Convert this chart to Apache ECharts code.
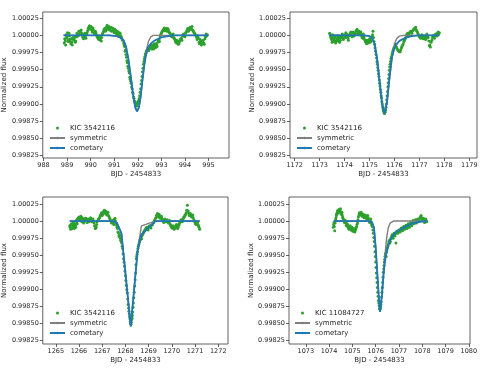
<!DOCTYPE html>
<html><head><meta charset="utf-8">
<script src="https://cdn.jsdelivr.net/npm/echarts@6/dist/echarts.min.js"></script>
<style>html,body{margin:0;padding:0;background:#fff}#c{width:481px;height:369px}</style>
</head><body><div id="c"></div><script>
// ---------- Panel 1: KIC 3542116 ----------
const p1Time=[988.88,988.92,988.96,989.00,989.04,989.08,989.12,989.16,989.20,989.25,989.30,989.35,989.40,989.45,989.50,989.55,989.60,989.65,989.70,989.75,989.80,989.85,989.90,989.95,990.00,990.05,990.10,990.15,990.20,990.25,990.30,990.35,990.40,990.45,990.50,990.55,990.60,990.65,990.70,990.75,990.80,990.85,990.90,990.95,991.00,991.05,991.10,991.15,991.20,991.25,991.30,
991.35,991.40,991.44,991.48,991.52,991.56,991.60,991.64,991.68,991.72,991.76,991.80,991.84,991.88,991.92,991.96,992.00,992.04,992.08,992.12,992.16,992.20,992.24,992.28,992.32,992.36,
992.40,992.45,992.50,992.55,992.60,992.65,992.70,992.75,992.80,992.85,992.90,992.95,993.00,993.05,993.10,993.15,993.20,993.25,993.30,993.35,993.40,993.45,993.50,993.55,993.60,993.65,993.70,993.75,993.80,993.85,993.90,993.95,994.00,994.05,994.10,994.15,994.20,994.25,994.30,994.35,994.40,994.45,994.50,994.55,994.60,994.65,994.70,994.75,994.80,994.85,994.90,994.95,
988.90,988.94,988.98,989.02,989.06,989.10,989.14,989.18,989.22,989.27,989.32,989.37,989.42,989.47,989.52,989.57,989.62,989.67,989.72,989.77,989.82,989.87,989.92,989.97,990.02,990.07,990.12,990.17,990.22,990.27,990.32,990.37,990.42,990.47,990.52,990.57,990.62,990.67,990.72,990.77,990.82,990.87,990.92,990.97,991.02,991.07,991.12,991.17,991.22,991.27,991.32,
991.42,991.46,991.50,991.54,991.58,991.62,991.66,991.70,991.74,991.78,991.82,991.86,991.90,991.94,991.98,992.02,992.06,992.10,992.14,992.18,992.22,992.26,992.30,992.34,992.38,
992.42,992.47,992.52,992.57,992.62,992.67,992.72,992.77,992.82,992.87,992.92,992.97,993.02,993.07,993.12,993.17,993.22,993.27,993.32,993.37,993.42,993.47,993.52,993.57,993.62,993.67,993.72,993.77,993.82,993.87,993.92,993.97,994.02,994.07,994.12,994.17,994.22,994.27,994.32,994.37,994.42,994.47,994.52,994.57,994.62,994.67,994.72,994.77,994.82,994.87,994.92];
const p1Flux=[0.99989,0.99992,1.00001,0.99996,0.99991,1.00003,0.99994,0.99988,0.99990,0.99997,0.99993,0.99990,0.99998,1.00002,1.00006,1.00003,1.00008,1.00000,0.99995,1.00003,0.99996,1.00004,1.00010,1.00014,1.00012,1.00008,1.00011,1.00004,1.00006,1.00001,0.99997,0.99994,0.99996,0.99992,1.00002,1.00006,1.00010,1.00007,1.00015,1.00011,1.00008,1.00012,1.00006,1.00010,1.00004,1.00008,1.00002,1.00005,0.99999,1.00003,0.99998,
0.99993,0.99989,0.99984,0.99979,0.99968,0.99960,0.99952,0.99945,0.99936,0.99930,0.99922,0.99915,0.99908,0.99903,0.99900,0.99897,0.99902,0.99905,0.99912,0.99922,0.99934,0.99947,0.99958,0.99966,0.99972,0.99976,
0.99979,0.99983,0.99981,0.99985,0.99980,0.99984,0.99988,0.99982,0.99986,0.99990,0.99994,0.99998,1.00003,1.00006,1.00009,1.00007,1.00010,1.00006,1.00008,1.00004,1.00001,0.99998,1.00002,0.99996,0.99992,0.99989,0.99991,0.99988,0.99993,0.99996,0.99999,1.00002,0.99998,1.00005,1.00008,1.00006,1.00011,1.00009,1.00013,1.00007,1.00004,1.00001,0.99997,0.99999,0.99990,0.99994,0.99986,0.99992,0.99989,0.99995,1.00002,1.00001,
0.99995,0.99986,0.99998,1.00004,0.99993,0.99999,0.99991,0.99995,0.99986,0.99994,0.99997,0.99992,1.00003,0.99999,1.00002,1.00007,1.00003,0.99997,1.00001,0.99998,1.00001,1.00007,1.00012,1.00009,1.00013,1.00005,1.00008,1.00002,1.00004,0.99998,0.99995,0.99999,0.99993,0.99997,1.00004,1.00009,1.00006,1.00012,1.00009,1.00013,1.00010,1.00007,1.00011,1.00007,1.00009,1.00004,1.00006,1.00001,1.00004,1.00000,0.99996,
0.99986,0.99977,0.99972,0.99963,0.99955,0.99948,0.99939,0.99933,0.99925,0.99917,0.99910,0.99904,0.99901,0.99899,0.99900,0.99904,0.99908,0.99917,0.99929,0.99940,0.99952,0.99962,0.99969,0.99974,0.99978,
0.99981,0.99978,0.99984,0.99982,0.99986,0.99980,0.99985,0.99988,0.99984,0.99993,0.99991,1.00001,1.00005,1.00008,1.00011,1.00009,1.00007,1.00010,1.00005,1.00003,0.99999,1.00001,0.99997,0.99994,0.99990,0.99993,0.99987,0.99991,0.99995,0.99993,1.00001,0.99999,1.00003,1.00006,1.00010,1.00008,1.00012,1.00010,1.00008,1.00005,1.00002,0.99999,0.99994,0.99996,0.99988,0.99991,0.99989,0.99993,0.99987,0.99998,0.99999];
const p1ModelTime=[988.85,990.8,991.1,991.25,991.4,991.5,991.6,991.7,991.8,991.9,991.97,992.05,992.12,992.2,992.28,992.35,992.45,992.55,992.65,992.8,993.0,993.3,993.6,995.0];
const p1Sym=[1.0,1.0,0.99999,0.99997,0.99993,0.99984,0.99966,0.99941,0.99914,0.99894,0.99889,0.99895,0.99910,0.99935,0.99958,0.99975,0.99991,0.99998,1.0,1.0,1.0,1.0,1.0,1.0];
const p1Com=[1.0,1.0,0.99999,0.99997,0.99993,0.99984,0.99966,0.99941,0.99914,0.99894,0.99889,0.99895,0.99910,0.99935,0.99957,0.99972,0.99983,0.99988,0.99991,0.99994,0.99997,0.99999,1.0,1.0];
const p1XTicks=[988,989,990,991,992,993,994,995];

// ---------- Panel 2: KIC 3542116 ----------
const p2Time=[1173.40,1173.44,1173.48,1173.52,1173.56,1173.60,1173.64,1173.68,1173.72,1173.76,1173.80,1173.85,1173.90,1173.95,1174.00,1174.05,1174.10,1174.15,1174.20,1174.25,1174.30,1174.35,1174.40,1174.45,1174.50,1174.55,1174.60,1174.65,1174.70,1174.75,1174.80,1174.85,1174.90,1174.95,1175.00,1175.05,1175.10,1175.14,1175.18,1175.22,
1175.26,1175.30,1175.33,1175.36,1175.39,1175.42,1175.45,1175.48,1175.51,1175.54,1175.57,1175.60,1175.63,1175.66,1175.69,1175.72,1175.75,1175.78,1175.81,1175.84,1175.88,1175.92,1175.96,
1176.00,1176.05,1176.10,1176.15,1176.20,1176.25,1176.30,1176.35,1176.40,1176.45,1176.50,1176.55,1176.60,1176.65,1176.70,1176.75,1176.80,1176.85,1176.90,1176.95,1177.00,1177.05,1177.10,1177.15,1177.20,1177.25,1177.30,1177.35,1177.40,1177.44,1177.50,1177.55,1177.60,1177.65,1177.70,1177.75,1177.80,
1173.42,1173.46,1173.50,1173.54,1173.58,1173.62,1173.66,1173.70,1173.74,1173.78,1173.83,1173.88,1173.93,1173.98,1174.03,1174.08,1174.13,1174.18,1174.23,1174.28,1174.33,1174.38,1174.43,1174.48,1174.53,1174.58,1174.63,1174.68,1174.73,1174.78,1174.83,1174.88,1174.93,1174.98,1175.03,1175.08,1175.12,1175.16,1175.20,1175.24,
1175.28,1175.315,1175.345,1175.375,1175.405,1175.435,1175.465,1175.495,1175.525,1175.555,1175.585,1175.615,1175.645,1175.675,1175.705,1175.735,1175.765,1175.795,1175.825,1175.86,1175.90,1175.94,1175.98,
1176.03,1176.08,1176.13,1176.18,1176.23,1176.28,1176.33,1176.38,1176.43,1176.48,1176.53,1176.58,1176.63,1176.68,1176.73,1176.78,1176.83,1176.88,1176.93,1176.98,1177.03,1177.08,1177.13,1177.18,1177.23,1177.28,1177.33,1177.38,1177.42,1177.47,1177.52,1177.57,1177.62,1177.67,1177.72,1177.77];
const p2Flux=[1.00003,0.99998,0.99994,1.00001,0.99991,0.99996,0.99989,0.99993,1.00000,0.99995,0.99990,0.99997,1.00002,0.99994,0.99998,1.00004,0.99999,0.99993,1.00001,1.00005,0.99998,1.00003,1.00001,1.00006,1.00009,1.00004,1.00001,1.00005,0.99997,1.00002,0.99994,0.99990,0.99993,0.99989,0.99995,0.99992,0.99998,1.00006,0.99991,0.99982,
0.99972,0.99962,0.99953,0.99944,0.99935,0.99926,0.99917,0.99909,0.99900,0.99893,0.99889,0.99886,0.99888,0.99895,0.99906,0.99918,0.99931,0.99943,0.99954,0.99962,0.99969,0.99975,0.99980,
0.99983,0.99987,0.99981,0.99978,0.99976,0.99979,0.99984,0.99988,0.99993,0.99997,1.00002,1.00000,1.00004,1.00006,1.00003,1.00008,1.00010,1.00012,1.00006,1.00002,0.99998,0.99996,1.00001,0.99995,0.99999,0.99994,1.00002,0.99997,0.99985,0.99983,0.99993,1.00000,0.99996,1.00002,0.99999,1.00005,1.00004,
1.00001,0.99996,0.99990,0.99997,0.99993,0.99999,0.99991,0.99996,0.99992,0.99998,0.99993,0.99999,0.99996,1.00001,0.99997,1.00002,0.99996,0.99999,1.00003,1.00000,1.00005,0.99999,1.00003,1.00007,1.00002,1.00006,1.00003,1.00000,0.99996,0.99998,0.99992,0.99988,0.99991,0.99993,0.99990,0.99996,1.00001,0.99997,0.99987,0.99977,
0.99967,0.99958,0.99949,0.99940,0.99930,0.99921,0.99912,0.99903,0.99896,0.99890,0.99887,0.99887,0.99891,0.99900,0.99912,0.99925,0.99937,0.99949,0.99958,0.99966,0.99972,0.99978,0.99982,
0.99985,0.99983,0.99979,0.99977,0.99976,0.99982,0.99986,0.99991,0.99995,1.00000,1.00003,1.00001,1.00005,1.00004,1.00007,1.00009,1.00011,1.00008,1.00004,1.00000,0.99997,0.99999,0.99997,0.99996,0.99998,0.99996,0.99999,0.99992,0.99986,0.99990,0.99997,0.99998,0.99999,1.00000,1.00003,1.00002];
const p2ModelTime=[1173.4,1174.8,1175.0,1175.1,1175.2,1175.3,1175.4,1175.5,1175.6,1175.7,1175.8,1175.9,1176.0,1176.1,1176.2,1176.35,1176.5,1176.7,1177.0,1177.8];
const p2Sym=[1.0,1.0,0.99999,0.99996,0.99988,0.99967,0.99934,0.99901,0.99886,0.99901,0.99934,0.99967,0.99988,0.99996,0.99999,1.0,1.0,1.0,1.0,1.0];
const p2Com=[1.0,1.0,0.99999,0.99996,0.99988,0.99967,0.99934,0.99901,0.99886,0.99903,0.99940,0.99968,0.99982,0.99988,0.99992,0.99995,0.99997,0.99999,1.0,1.0];
const p2XTicks=[1172,1173,1174,1175,1176,1177,1178,1179];

// ---------- Panel 3: KIC 3542116 ----------
const p3Time=[1265.60,1265.64,1265.68,1265.72,1265.76,1265.80,1265.84,1265.88,1265.92,1265.96,1266.00,1266.04,1266.08,1266.12,1266.16,1266.20,1266.25,1266.30,1266.35,1266.40,1266.45,1266.50,1266.55,1266.60,1266.65,1266.70,1266.74,1266.78,1266.84,1266.90,1266.95,1267.00,1267.05,1267.10,1267.15,1267.20,1267.25,1267.30,1267.35,1267.40,1267.45,1267.50,1267.55,1267.60,1267.64,1267.68,
1267.72,1267.76,1267.80,1267.84,1267.88,1267.92,1267.96,1268.00,1268.04,1268.08,1268.12,1268.15,1268.18,1268.21,1268.24,1268.27,1268.30,
1268.33,1268.36,1268.40,1268.44,1268.47,1268.50,1268.54,1268.58,1268.62,1268.66,1268.70,1268.75,1268.80,1268.86,1268.92,1268.98,1269.04,1269.10,1269.16,1269.22,1269.28,1269.34,1269.38,1269.42,1269.46,1269.50,1269.55,1269.60,1269.65,1269.70,1269.75,1269.80,1269.85,1269.90,1269.95,1270.00,1270.05,1270.10,1270.15,1270.20,1270.25,1270.30,1270.35,1270.40,1270.45,1270.50,1270.55,1270.60,1270.64,1270.67,1270.70,1270.75,1270.80,1270.85,1270.90,1270.95,1271.00,1271.05,1271.10,1271.15,1271.20,
1265.62,1265.66,1265.70,1265.74,1265.78,1265.82,1265.86,1265.90,1265.94,1265.98,1266.02,1266.06,1266.10,1266.14,1266.18,1266.22,1266.27,1266.32,1266.37,1266.42,1266.47,1266.52,1266.57,1266.62,1266.67,1266.72,1266.76,1266.81,1266.87,1266.92,1266.97,1267.02,1267.07,1267.12,1267.17,1267.22,1267.27,1267.32,1267.37,1267.42,1267.47,1267.52,1267.57,1267.62,1267.66,
1267.70,1267.74,1267.78,1267.82,1267.86,1267.90,1267.94,1267.98,1268.02,1268.06,1268.10,1268.135,1268.165,1268.195,1268.225,1268.255,1268.285,1268.315,1268.345,1268.38,1268.42,1268.455,1268.485,1268.52,1268.56,1268.60,1268.64,1268.68,1268.72,1268.78,1268.83,1268.89,1268.95,1269.01,1269.07,1269.13,1269.19,1269.25,1269.31,1269.36,1269.40,1269.44,1269.48,1269.52,1269.57,1269.62,1269.67,1269.72,1269.77,1269.82,1269.87,1269.92,1269.97,1270.02,1270.07,1270.12,1270.17,1270.22,1270.27,1270.32,1270.37,1270.42,1270.47,1270.52,1270.57,1270.62,1270.72,1270.77,1270.82,1270.87,1270.92,1270.97,1271.02,1271.07,1271.12,1271.17];
const p3Flux=[0.99993,0.99988,0.99996,0.99991,0.99998,0.99989,0.99994,1.00001,0.99996,1.00004,1.00006,1.00002,1.00007,0.99999,1.00003,0.99997,1.00002,1.00004,0.99998,1.00003,1.00000,1.00005,0.99999,1.00003,0.99997,0.99989,0.99991,0.99999,1.00003,1.00006,1.00010,1.00008,1.00013,1.00016,1.00011,1.00009,1.00013,1.00006,1.00002,0.99997,1.00001,0.99995,1.00004,0.99997,0.99991,0.99984,
0.99979,0.99980,0.99972,0.99968,0.99960,0.99945,0.99934,0.99920,0.99906,0.99895,0.99878,0.99868,0.99860,0.99853,0.99849,0.99856,0.99862,
0.99874,0.99888,0.99905,0.99924,0.99945,0.99951,0.99960,0.99966,0.99972,0.99976,0.99974,0.99981,0.99985,0.99988,0.99991,0.99987,0.99993,0.99990,0.99995,0.99998,1.00003,1.00008,1.00011,1.00006,1.00009,1.00004,1.00007,1.00002,0.99998,1.00003,0.99999,1.00002,0.99997,1.00001,0.99994,0.99990,0.99993,0.99988,0.99991,0.99995,0.99989,0.99994,0.99998,1.00002,0.99999,1.00004,1.00007,1.00010,1.00016,1.00023,1.00015,1.00008,1.00011,1.00006,1.00009,1.00002,0.99998,0.99995,0.99998,0.99993,0.99988,
0.99991,0.99995,0.99989,0.99994,0.99992,0.99996,0.99991,0.99999,1.00003,1.00001,1.00005,1.00004,1.00002,1.00005,1.00001,0.99999,1.00004,1.00001,1.00002,0.99999,1.00003,1.00002,1.00001,1.00000,0.99993,0.99990,0.99995,1.00001,1.00004,1.00008,1.00012,1.00010,1.00015,1.00012,1.00014,1.00010,1.00008,1.00004,1.00000,0.99999,0.99997,1.00002,1.00000,0.99994,0.99989,
0.99983,0.99977,0.99975,0.99970,0.99963,0.99952,0.99940,0.99927,0.99913,0.99900,0.99886,0.99873,0.99864,0.99857,0.99851,0.99852,0.99858,0.99867,0.99880,0.99896,0.99914,0.99936,0.99948,0.99955,0.99963,0.99969,0.99973,0.99978,0.99979,0.99983,0.99986,0.99990,0.99989,0.99992,0.99991,0.99994,0.99997,1.00001,1.00005,1.00009,1.00008,1.00010,1.00006,1.00005,1.00004,1.00000,1.00001,1.00000,1.00001,0.99999,0.99999,0.99996,0.99992,0.99991,0.99990,0.99990,0.99993,0.99992,0.99991,0.99996,1.00000,1.00001,1.00002,1.00006,1.00009,1.00012,1.00012,1.00010,1.00008,1.00007,1.00005,1.00000,0.99996,0.99997,0.99995,0.99991];
const p3ModelTime=[1265.6,1267.45,1267.64,1267.83,1268.23,1268.53,1268.69,1269.29,1271.2];
const p3Sym=[1.0,1.0,0.99997,0.99982,0.99846,0.99958,0.99993,1.0,1.0];
const p3Com=[1.0,1.0,0.99997,0.99982,0.99846,0.99958,0.99980,1.0,1.0];
const p3XTicks=[1265,1266,1267,1268,1269,1270,1271,1272];

// ---------- Panel 4: KIC 11084727 ----------
const p4Time=[1074.18,1074.21,1074.24,1074.28,1074.31,1074.34,1074.37,1074.40,1074.43,1074.46,1074.49,1074.52,1074.55,1074.58,1074.62,1074.66,1074.70,1074.74,1074.78,1074.82,1074.86,1074.90,1074.94,1074.98,1075.02,1075.06,1075.10,1075.14,1075.18,1075.22,1075.26,1075.30,1075.34,1075.38,1075.42,1075.46,1075.50,1075.54,1075.58,1075.62,1075.66,1075.70,1075.74,1075.78,1075.82,
1075.86,1075.90,1075.94,1075.97,1076.00,1076.03,1076.06,1076.09,1076.12,1076.15,1076.18,1076.21,1076.24,1076.27,1076.30,1076.33,1076.36,1076.39,1076.42,1076.45,1076.48,1076.51,1076.55,1076.59,1076.63,1076.67,1076.71,1076.75,1076.79,1076.83,1076.87,1076.91,1076.95,
1077.00,1077.05,1077.10,1077.15,1077.20,1077.25,1077.30,1077.35,1077.40,1077.45,1077.50,1077.55,1077.60,1077.65,1077.70,1077.75,1077.80,1077.85,1077.90,1077.95,1078.00,1078.05,1078.10,1078.15,1078.19,
1074.195,1074.225,1074.26,1074.295,1074.325,1074.355,1074.385,1074.415,1074.445,1074.475,1074.505,1074.535,1074.565,1074.60,1074.64,1074.68,1074.72,1074.76,1074.80,1074.84,1074.88,1074.92,1074.96,1075.00,1075.04,1075.08,1075.12,1075.16,1075.20,1075.24,1075.28,1075.32,1075.36,1075.40,1075.44,1075.48,1075.52,1075.56,1075.60,1075.64,1075.68,1075.72,1075.76,1075.80,1075.84,
1075.88,1075.92,1075.955,1075.985,1076.015,1076.045,1076.075,1076.105,1076.135,1076.165,1076.195,1076.225,1076.255,1076.285,1076.315,1076.345,1076.375,1076.405,1076.435,1076.465,1076.495,1076.53,1076.57,1076.61,1076.65,1076.69,1076.73,1076.77,1076.81,1076.85,1076.89,1076.93,1076.975,1077.025,1077.075,1077.125,1077.175,1077.225,1077.275,1077.325,1077.375,1077.425,1077.475,1077.525,1077.575,1077.625,1077.675,1077.725,1077.775,1077.825,1077.875,1077.925,1077.975,1078.025,1078.075,1078.125,1078.17];
const p4Flux=[0.99991,0.99998,0.99986,1.00002,1.00008,1.00011,1.00015,1.00012,1.00017,1.00014,1.00018,1.00010,1.00013,1.00006,1.00002,0.99998,1.00001,0.99994,0.99996,0.99991,0.99988,0.99993,0.99987,0.99991,0.99985,0.99989,0.99984,0.99988,0.99992,0.99997,1.00006,1.00012,1.00009,1.00013,1.00007,1.00010,1.00005,1.00009,1.00006,1.00003,1.00008,1.00002,0.99998,1.00003,0.99996,
0.99992,0.99982,0.99970,0.99955,0.99940,0.99924,0.99910,0.99896,0.99884,0.99876,0.99871,0.99874,0.99882,0.99896,0.99910,0.99925,0.99935,0.99944,0.99951,0.99948,0.99957,0.99962,0.99967,0.99972,0.99970,0.99976,0.99980,0.99975,0.99982,0.99978,0.99968,0.99985,0.99982,
0.99987,0.99984,0.99990,0.99986,0.99992,0.99988,0.99994,0.99989,0.99996,0.99991,0.99998,0.99993,1.00001,0.99996,1.00002,0.99997,1.00003,0.99999,1.00005,1.00008,1.00002,1.00004,0.99998,1.00003,0.99999,
0.99995,0.99992,0.99997,1.00005,1.00010,1.00013,1.00016,1.00014,1.00016,1.00015,1.00012,1.00011,1.00009,1.00004,1.00000,0.99999,0.99997,0.99993,0.99994,0.99989,0.99990,0.99989,0.99989,0.99987,0.99987,0.99986,0.99986,0.99990,0.99995,1.00002,1.00009,1.00010,1.00011,1.00010,1.00008,1.00007,1.00007,1.00008,1.00004,1.00005,1.00005,1.00000,1.00001,0.99999,0.99994,
0.99987,0.99976,0.99963,0.99948,0.99932,0.99917,0.99903,0.99890,0.99880,0.99872,0.99872,0.99878,0.99889,0.99903,0.99918,0.99930,0.99940,0.99948,0.99953,0.99955,0.99960,0.99964,0.99970,0.99968,0.99974,0.99978,0.99977,0.99979,0.99981,0.99983,0.99982,0.99984,0.99985,0.99986,0.99988,0.99988,0.99990,0.99990,0.99992,0.99992,0.99993,0.99994,0.99995,0.99996,0.99997,0.99999,0.99999,1.00000,1.00001,1.00001,1.00002,1.00006,1.00005,1.00003,1.00001,1.00000,1.00001];
const p4ModelTime=[1074.2,1075.7,1075.85,1075.93,1076.0,1076.06,1076.13,1076.19,1076.27,1076.34,1076.40,1076.47,1076.54,1076.62,1076.76,1076.9,1077.12,1077.4,1077.62,1077.9,1078.2];
const p4Sym=[1.0,1.0,0.99998,0.99990,0.99962,0.99930,0.99892,0.99867,0.99892,0.99925,0.99950,0.99975,0.99990,0.99997,1.0,1.0,1.0,1.0,1.0,1.0,1.0];
const p4Com=[1.0,1.0,0.99998,0.99990,0.99962,0.99930,0.99892,0.99867,0.99892,0.99922,0.99943,0.99956,0.99965,0.99972,0.99980,0.99985,0.99989,0.99994,0.99997,0.99999,1.0];
const p4XTicks=[1073,1074,1075,1076,1077,1078,1079,1080];

const yTicks=[0.99825,0.99850,0.99875,0.99900,0.99925,0.99950,0.99975,1.00000,1.00025];
const starNames=['KIC 3542116','KIC 3542116','KIC 3542116','KIC 11084727'];
const xLabel='BJD - 2454833';
const yLabel='Normalized flux';

const panels=[
 {t:p1Time,f:p1Flux,mt:p1ModelTime,sym:p1Sym,com:p1Com,xt:p1XTicks,grid:{left:42,top:12,width:187,height:146},xr:[987.97,995.87],yr:[0.99821,1.000342],leg:{left:49,top:124}},
 {t:p2Time,f:p2Flux,mt:p2ModelTime,sym:p2Sym,com:p2Com,xt:p2XTicks,grid:{left:290,top:12,width:187,height:146},xr:[1171.81,1179.31],yr:[0.99821,1.000342],leg:{left:296,top:124}},
 {t:p3Time,f:p3Flux,mt:p3ModelTime,sym:p3Sym,com:p3Com,xt:p3XTicks,grid:{left:42,top:197,width:186,height:147},xr:[1264.44,1272.42],yr:[0.998202,1.000352],leg:{left:49,top:309}},
 {t:p4Time,f:p4Flux,mt:p4ModelTime,sym:p4Sym,com:p4Com,xt:p4XTicks,grid:{left:289,top:197,width:181,height:147},xr:[1072.28,1080.05],yr:[0.998202,1.000352],leg:{left:294,top:309}}
];

const FONT='DejaVu Sans';
const TXT='#262626';
const zip=(a,b)=>a.map((v,i)=>[v,b[i]]);
const grids=[],xAxes=[],yAxes=[],series=[],legends=[];
panels.forEach((p,i)=>{
  grids.push(Object.assign({show:true,borderColor:'#3a3a3a',borderWidth:0.8,backgroundColor:'#fff',containLabel:false},p.grid));
  xAxes.push({type:'value',gridIndex:i,min:p.xr[0],max:p.xr[1],
    name:xLabel,nameLocation:'middle',nameGap:13,nameTextStyle:{fontFamily:FONT,fontSize:7,color:TXT},
    axisLine:{show:false},splitLine:{show:false},
    axisTick:{show:true,length:3,lineStyle:{color:'#3a3a3a',width:0.8},customValues:p.xt},
    axisLabel:{fontFamily:FONT,fontSize:6.5,color:TXT,margin:4,customValues:p.xt,formatter:v=>String(Math.round(v))}});
  yAxes.push({type:'value',gridIndex:i,min:p.yr[0],max:p.yr[1],
    name:yLabel,nameLocation:'middle',nameGap:31,nameTextStyle:{fontFamily:FONT,fontSize:7,color:TXT},
    axisLine:{show:false},splitLine:{show:false},
    axisTick:{show:true,length:3,lineStyle:{color:'#3a3a3a',width:0.8},customValues:yTicks},
    axisLabel:{fontFamily:FONT,fontSize:6.5,color:TXT,margin:4,customValues:yTicks,formatter:v=>v.toFixed(5)}});
  series.push({type:'scatter',name:starNames[i],xAxisIndex:i,yAxisIndex:i,data:zip(p.t,p.f),symbol:'circle',symbolSize:3,itemStyle:{color:'#2ca02c',opacity:1},z:2});
  series.push({type:'line',name:'symmetric',xAxisIndex:i,yAxisIndex:i,data:zip(p.mt,p.sym),showSymbol:false,symbol:'none',lineStyle:{color:'#7f7f7f',width:1.4},itemStyle:{color:'#7f7f7f'},z:3});
  series.push({type:'line',name:'cometary',xAxisIndex:i,yAxisIndex:i,data:zip(p.mt,p.com),showSymbol:false,symbol:'none',lineStyle:{color:'#1f77b4',width:1.8},itemStyle:{color:'#1f77b4'},z:4});
  legends.push({orient:'vertical',left:p.leg.left,top:p.leg.top,itemWidth:15,itemHeight:3,itemGap:2,padding:0,selectedMode:false,
    textStyle:{fontFamily:FONT,fontSize:7,color:TXT,lineHeight:8},
    data:[{name:starNames[i],icon:'circle'},{name:'symmetric'},{name:'cometary'}]});
});
const chart=echarts.init(document.getElementById('c'),null,{renderer:'canvas'});
chart.setOption({animation:false,backgroundColor:'#fff',grid:grids,xAxis:xAxes,yAxis:yAxes,series:series,legend:legends});
</script></body></html>
